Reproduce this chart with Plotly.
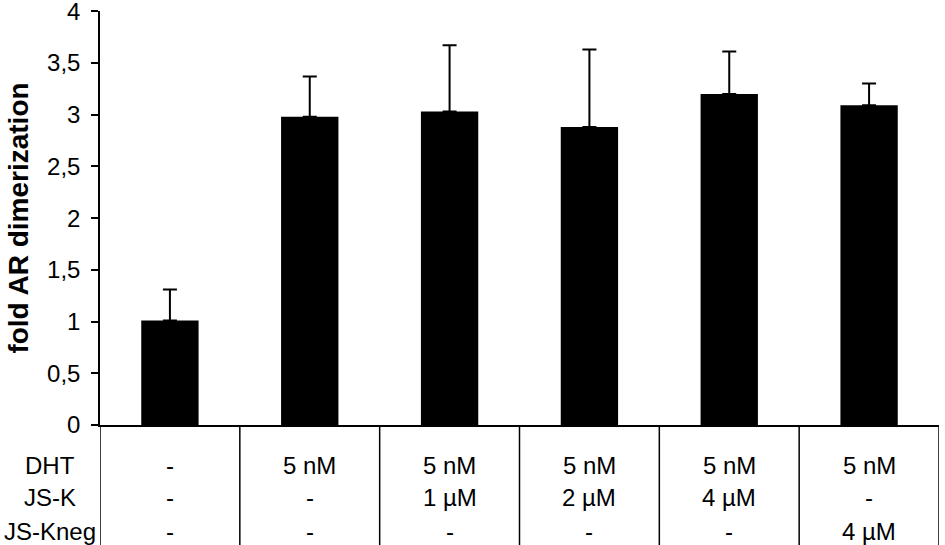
import plotly.graph_objects as go

# data
conditions = ['ctrl', 'DHT', 'DHT+JS-K 1', 'DHT+JS-K 2', 'DHT+JS-K 4', 'DHT+JS-Kneg 4']
fold_dimerization = [1.01, 2.98, 3.03, 2.88, 3.20, 3.09]
error_up = [0.30, 0.39, 0.64, 0.75, 0.41, 0.21]

row_names = ['DHT', 'JS-K', 'JS-Kneg']
dht_row = ['-', '5 nM', '5 nM', '5 nM', '5 nM', '5 nM']
jsk_row = ['-', '-', '1 µM', '2 µM', '4 µM', '-']
jskneg_row = ['-', '-', '-', '-', '-', '4 µM']

y_ticks = [0, 0.5, 1, 1.5, 2, 2.5, 3, 3.5, 4]

FONT = 'Liberation Sans, Arial, sans-serif'

fig = go.Figure()

fig.add_trace(
    go.Bar(
        x=list(range(len(conditions))),
        y=fold_dimerization,
        width=0.41,
        marker=dict(color='black', line=dict(width=0)),
        error_y=dict(
            type='data',
            symmetric=False,
            array=error_up,
            arrayminus=[0] * len(error_up),
            color='black',
            thickness=2,
            width=7,
        ),
        showlegend=False,
    )
)

# table below the plot: vertical separators between columns
table_bottom = -125 / 414
for b in range(len(conditions) + 1):
    fig.add_shape(
        type='line', xref='x', yref='paper',
        x0=b - 0.5, x1=b - 0.5, y0=0, y1=table_bottom,
        line=dict(color='black', width=1.5),
    )

# table text
row_y = [-40 / 414, -73 / 414, -106 / 414]
for name, values, yy in zip(row_names, [dht_row, jsk_row, jskneg_row], row_y):
    fig.add_annotation(
        text=name, xref='paper', yref='paper', x=-50 / 839, y=yy,
        xanchor='center', yanchor='middle', showarrow=False,
        font=dict(size=24, color='black', family=FONT),
    )
    for i, v in enumerate(values):
        fig.add_annotation(
            text=v, xref='x', yref='paper', x=i, y=yy,
            xanchor='center', yanchor='middle', showarrow=False,
            font=dict(size=24, color='black', family=FONT),
        )

fig.update_layout(
    width=945,
    height=545,
    margin=dict(l=100, r=6, t=11, b=120),
    plot_bgcolor='white',
    paper_bgcolor='white',
    separators=',.',
    font=dict(family=FONT, size=24, color='black'),
)

fig.update_xaxes(
    range=[-0.5, len(conditions) - 0.5],
    showticklabels=False,
    ticks='',
    showgrid=False,
    zeroline=False,
    showline=True,
    linecolor='black',
    linewidth=1.5,
    automargin=False,
)

fig.update_yaxes(
    range=[0, 4.002],
    tickvals=y_ticks,
    ticks='outside',
    ticklen=7,
    tickwidth=1.5,
    tickcolor='black',
    showgrid=False,
    zeroline=False,
    showline=True,
    linecolor='black',
    linewidth=1.5,
    ticklabelstandoff=6,
    ticklabeloverflow='allow',
    automargin=False,
    tickfont=dict(size=24, family=FONT),
    title=dict(text='<b>fold AR dimerization</b>', font=dict(size=28, family=FONT), standoff=10),
)

# drop the default page margin so the figure fills the window
fig.write_html(
    "out.html",
    config={'displayModeBar': False},
    post_script="document.body.style.margin='0';",
)
